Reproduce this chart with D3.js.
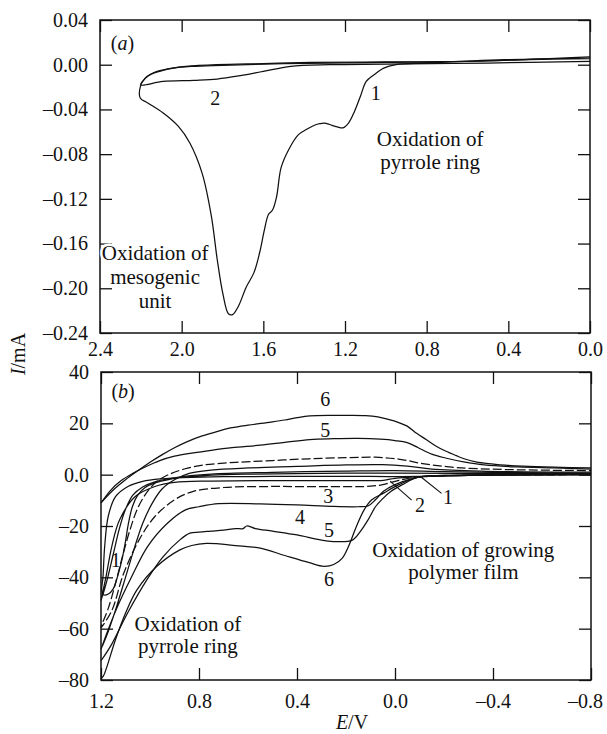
<!DOCTYPE html>
<html>
<head>
<meta charset="utf-8">
<script src="https://cdn.jsdelivr.net/npm/d3@7"></script>
<style>
  body { margin: 0; background: #fff; }
  svg text { font-family: "Liberation Serif", "Times New Roman", serif; fill: #111; }
</style>
</head>
<body>
<div id="canvas"></div>
<script>
// ---- panel (a) : potential E / V, current I / mA ----
const aXTicks = [2.4, 2.0, 1.6, 1.2, 0.8, 0.4, 0.0];
const aXLabels = ["2.4", "2.0", "1.6", "1.2", "0.8", "0.4", "0.0"];
const aYTicks = [0.04, 0.0, -0.04, -0.08, -0.12, -0.16, -0.20, -0.24];
const aYLabels = ["0.04", "0.00", "\u20130.04", "\u20130.08", "\u20130.12", "\u20130.16", "\u20130.20", "\u20130.24"];

const a1Fwd = [[0.0,0.006],[0.42,0.0045],[0.8,0.0015],[0.95,0.0],[1.01,-0.003],[1.058,-0.009],[1.096,-0.015],
  [1.124,-0.028],[1.153,-0.0416],[1.182,-0.052],[1.21,-0.0565],[1.238,-0.0556],[1.276,-0.0535],[1.3,-0.0522],
  [1.324,-0.0527],[1.34,-0.0535],[1.36,-0.055],[1.39,-0.058],[1.428,-0.0625],[1.476,-0.076],[1.513,-0.092],
  [1.535,-0.118],[1.555,-0.13],[1.575,-0.134],[1.595,-0.148],[1.618,-0.168],[1.646,-0.186],[1.684,-0.199],
  [1.722,-0.216],[1.75,-0.2235],[1.77,-0.223],[1.798,-0.205],[1.826,-0.174],[1.855,-0.135],[1.9,-0.097],
  [1.96,-0.07],[2.017,-0.055],[2.092,-0.043],[2.168,-0.034],[2.203,-0.0297]];
const a1Rev = [[2.203,-0.0297],[2.2,-0.018],[2.185,-0.0135],[2.168,-0.0104],[2.13,-0.0065],[2.09,-0.0045],
  [2.03,-0.0025],[1.98,-0.0015],[1.83,0.0],[1.6,0.001],[1.37,0.002],[1.0,0.0025],[0.61,0.003],[0.3,0.0045],[0.0,0.0055]];
const a2Fwd = [[0.0,0.003],[0.5,0.0015],[1.0,0.0005],[1.276,0.0],[1.466,-0.0015],[1.6,-0.006],[1.713,-0.0098],
  [1.826,-0.0128],[1.94,-0.014],[2.092,-0.015],[2.2,-0.018]];
const a2Rev = [[2.2,-0.018],[2.18,-0.0125],[2.15,-0.0085],[2.1,-0.0055],[2.04,-0.003],[1.95,-0.0015],
  [1.8,-0.0005],[1.5,0.001],[1.0,0.002],[0.5,0.0035],[0.0,0.007]];

// ---- panel (b) ----
const bXTicks = [1.2, 0.8, 0.4, 0.0, -0.4, -0.8];
const bXLabels = ["1.2", "0.8", "0.4", "0.0", "\u20130.4", "\u20130.8"];
const bYTicks = [40, 20, 0, -20, -40, -60, -80];
const bYLabels = ["40", "20", "0.0", "\u201320", "\u201340", "\u201360", "\u201380"];

const b1 = [[-0.8,0.2],[-0.4,0.0],[-0.1,-0.7],[0.1,-0.7],[0.4,-0.7],[0.7,-0.8],[0.87,-1.2],[0.95,-1.6],
  [1.03,-2.6],[1.09,-4.6],[1.14,-8.5],[1.17,-16],[1.185,-28],[1.192,-40],[1.197,-45],[1.19,-46.8],
  [1.17,-46.5],[1.15,-44.5],[1.135,-40.5],[1.122,-36],[1.112,-32],[1.1,-26],[1.088,-19],[1.072,-12.5],
  [1.05,-8],[1.02,-5],[0.98,-3.2],[0.92,-1.8],[0.85,-0.9],[0.75,-0.2],[0.6,0.2],[0.3,0.5],[0.0,0.6],[-0.4,0.5],[-0.8,0.4]];
const b2Fwd = [[-0.8,0.1],[-0.4,-0.1],[-0.1,-0.8],[0.0,-1.4],[0.047,-2.2],[0.2,-2.3],[0.5,-2.3],[0.75,-2.5],
  [0.9,-3.0],[0.98,-4.6],[1.06,-8.5],[1.124,-17.6],[1.156,-28],[1.18,-40],[1.2,-49]];
const b2Rev = [[1.2,-49],[1.175,-41],[1.15,-31],[1.125,-21],[1.1,-13.5],[1.07,-8],[1.03,-4.8],[0.98,-2.8],
  [0.9,-1.2],[0.75,0.2],[0.5,0.9],[0.2,1.4],[0.0,1.6],[-0.2,1.2],[-0.5,0.8],[-0.8,0.6]];
const b3Fwd = [[-0.8,0.0],[-0.4,-0.2],[-0.15,-0.6],[-0.05,-1.5],[0.0,-2.6],[0.05,-3.9],[0.1,-4.5],[0.3,-4.7],
  [0.5,-4.6],[0.7,-5.0],[0.823,-6.5],[0.9,-9.8],[0.98,-16.3],[1.045,-25.5],[1.108,-38.6],[1.156,-53],[1.2,-59.5]];
const b3Rev = [[1.2,-59.5],[1.17,-52],[1.14,-42],[1.11,-31],[1.08,-21],[1.05,-13],[1.01,-6.5],[0.97,-2.5],
  [0.92,0.2],[0.86,2.2],[0.78,3.8],[0.65,4.8],[0.5,5.5],[0.35,6.2],[0.2,6.6],[0.08,6.8],[-0.02,6.0],
  [-0.12,4.2],[-0.25,2.8],[-0.45,2.0],[-0.8,1.6]];
const b4Fwd = [[-0.8,0.0],[-0.3,-0.3],[-0.1,-0.9],[-0.064,-1.7],[0.0,-3.9],[0.047,-6.5],[0.08,-9.8],[0.11,-12.2],
  [0.15,-12.5],[0.25,-12.4],[0.4,-11.8],[0.55,-11.4],[0.72,-11.3],[0.8,-12.5],[0.855,-13.7],[0.93,-19],
  [1.01,-28],[1.076,-40],[1.14,-53],[1.2,-68]];
const b4Rev = [[1.2,-68],[1.17,-61],[1.135,-51],[1.1,-40],[1.065,-29],[1.03,-19],[0.99,-11],[0.95,-5.5],
  [0.9,-2],[0.84,0.5],[0.75,1.8],[0.6,2.6],[0.4,3.2],[0.2,3.8],[0.05,3.9],[-0.05,3.3],[-0.15,2.2],[-0.35,1.4],[-0.8,1.0]];
const b5Fwd = [[-0.8,0.0],[-0.3,-0.3],[-0.095,-1.0],[-0.03,-3.9],[0.016,-6.5],[0.055,-9.8],[0.079,-12.4],
  [0.11,-17.6],[0.142,-22.2],[0.174,-25.5],[0.237,-26.1],[0.3,-25.5],[0.4,-23.5],[0.5,-22.0],[0.57,-21.0],
  [0.605,-20.0],[0.62,-21.0],[0.65,-21.0],[0.7,-21.6],[0.75,-22.0],[0.8,-22.4],[0.837,-22.8],[0.878,-25.4],
  [0.947,-32],[1.013,-41],[1.092,-54],[1.156,-66],[1.2,-72.5]];
const b5Rev = [[1.2,-11],[1.16,-6],[1.12,-2.5],[1.07,0.5],[1.02,3],[0.96,5.5],[0.9,7.2],[0.823,8.5],[0.75,9.5],
  [0.665,10.5],[0.55,11.5],[0.45,12.6],[0.348,13.7],[0.25,14],[0.15,14.1],[0.06,13.8],[0.0,13.3],[-0.05,12.5],
  [-0.095,10.5],[-0.15,8],[-0.206,6.5],[-0.28,5],[-0.364,3.8],[-0.5,3.0],[-0.65,2.6],[-0.8,2.2]];
const b6Fwd = [[-0.8,0.2],[-0.4,0.0],[-0.2,-0.3],[-0.095,-1.0],[-0.016,-3.9],[0.047,-7.2],[0.095,-9.8],
  [0.126,-13.7],[0.158,-20.3],[0.19,-28],[0.215,-32.5],[0.25,-35],[0.29,-35.7],[0.35,-34.3],[0.45,-31.5],
  [0.55,-28.6],[0.65,-27.6],[0.77,-26.8],[0.83,-27.6],[0.878,-29.3],[0.973,-35.8],[1.054,-45],[1.1,-54],
  [1.14,-64],[1.19,-78.4],[1.2,-79.5]];
const b6Rev = [[1.2,-11],[1.15,-6],[1.1,-2],[1.05,1.5],[1.0,4.8],[0.95,7.8],[0.9,10.5],[0.85,12.8],[0.79,15],
  [0.72,17],[0.665,18.3],[0.6,19.3],[0.506,20.5],[0.45,21.3],[0.4,22.2],[0.348,22.9],[0.25,23.1],[0.19,23.1],
  [0.12,23.0],[0.07,22.5],[0.031,21.6],[-0.01,20.5],[-0.048,19],[-0.09,16],[-0.127,13.7],[-0.17,11],
  [-0.206,9.2],[-0.25,7.4],[-0.285,6.1],[-0.33,5.0],[-0.38,4.3],[-0.45,3.7],[-0.523,3.3],[-0.65,2.9],[-0.8,2.6]];

const canvas = d3.select("#canvas");
const svg = canvas.append("svg").attr("width", 607).attr("height", 734);

function panel(x, y, xTicks, xLabels, yTicks, yLabels, xPad) {
  const g = svg.append("g");
  const x0 = x.range()[0], x1 = x.range()[1], y0 = y.range()[1], y1 = y.range()[0];
  g.append("g").attr("class", "xaxis").attr("transform", `translate(0,${y1})`)
    .call(d3.axisBottom(x).tickValues(xTicks).tickSize(-12).tickPadding(xPad).tickFormat((d, i) => xLabels[i]));
  g.append("g").attr("transform", `translate(0,${y0})`)
    .call(d3.axisTop(x).tickValues(xTicks).tickSize(-12).tickFormat(""));
  g.append("g").attr("transform", `translate(${x0},0)`)
    .call(d3.axisLeft(y).tickValues(yTicks).tickSize(-12).tickPadding(12).tickFormat((d, i) => yLabels[i]));
  g.append("g").attr("transform", `translate(${x1},0)`)
    .call(d3.axisRight(y).tickValues(yTicks).tickSize(-12).tickFormat(""));
  g.selectAll(".domain").remove();
  g.selectAll(".tick line").attr("stroke", "#111").attr("stroke-width", 1.3);
  g.selectAll(".tick text").attr("font-size", 20).attr("fill", "#111");
  g.append("rect").attr("x", x0).attr("y", y0).attr("width", x1 - x0).attr("height", y1 - y0)
    .attr("fill", "none").attr("stroke", "#111").attr("stroke-width", 1.5);
  return g;
}

function curve(g, x, y, data, dashed) {
  const line = d3.line().x(d => x(d[0])).y(d => y(d[1])).curve(d3.curveCatmullRom.alpha(0.5));
  g.append("path").datum(data).attr("d", line)
    .attr("fill", "none").attr("stroke", "#111").attr("stroke-width", 1.25)
    .attr("stroke-dasharray", dashed ? "9,3" : null);
}

function label(g, x, y, e, i, txt) {
  return g.append("text").attr("x", x(e)).attr("y", y(i)).attr("text-anchor", "middle")
    .attr("dominant-baseline", "central").attr("font-size", 20).text(txt);
}

// several lines in one text element
function note(g, x, y, e, i, lines, step, halo) {
  const t = g.append("text").attr("x", x(e)).attr("y", y(i)).attr("text-anchor", "middle")
    .attr("font-size", 21).attr("dominant-baseline", "central");
  lines.forEach((s, k) => {
    t.append("tspan").attr("x", x(e)).attr("dy", k === 0 ? 0 : step).text(s);
  });
  if (halo) t.attr("stroke", "#fff").attr("stroke-width", 5).attr("paint-order", "stroke");
  return t;
}

function paren(g, x, y, e, i, letter) {
  const t = g.append("text").attr("x", x(e)).attr("y", y(i)).attr("text-anchor", "middle")
    .attr("dominant-baseline", "central").attr("font-size", 20);
  t.append("tspan").text("(");
  t.append("tspan").attr("font-style", "italic").text(letter);
  t.append("tspan").text(")");
}

// panel (a)
const xa = d3.scaleLinear().domain([2.4, 0]).range([100, 590]);
const ya = d3.scaleLinear().domain([-0.24, 0.04]).range([333, 20]);
const ga = panel(xa, ya, aXTicks, aXLabels, aYTicks, aYLabels, 9);
curve(ga, xa, ya, a1Fwd.concat(a1Rev.slice(1)), false);
curve(ga, xa, ya, a2Fwd.concat(a2Rev.slice(1)), false);
label(ga, xa, ya, 1.05, -0.025, "1");
label(ga, xa, ya, 1.836, -0.0297, "2");
paren(ga, xa, ya, 2.29, 0.0198, "a");
note(ga, xa, ya, 0.783, -0.0669, ["Oxidation of", "pyrrole ring"], 23);
note(ga, xa, ya, 2.13, -0.1684, ["Oxidation of", "mesogenic", "unit"], 24, true);

// panel (b)
const xb = d3.scaleLinear().domain([1.2, -0.8]).range([101, 591]);
const yb = d3.scaleLinear().domain([-80, 40]).range([680, 372]);
const gb = panel(xb, yb, bXTicks, bXLabels, bYTicks, bYLabels, 14);
gb.selectAll(".xaxis .tick:last-of-type text").attr("dx", -6);
curve(gb, xb, yb, b1, false);
curve(gb, xb, yb, b2Fwd.concat(b2Rev.slice(1)), false);
curve(gb, xb, yb, b3Fwd.concat(b3Rev.slice(1)), true);
curve(gb, xb, yb, b4Fwd.concat(b4Rev.slice(1)), false);
curve(gb, xb, yb, b5Fwd, false);
curve(gb, xb, yb, b5Rev, false);
curve(gb, xb, yb, b6Fwd, false);
curve(gb, xb, yb, b6Rev, false);

const leaders = [[[-0.105, -0.8], [-0.19, -7.3]], [[0.02, -2.5], [-0.068, -9.9]]];
leaders.forEach(l => {
  gb.append("line").attr("x1", xb(l[0][0])).attr("y1", yb(l[0][1]))
    .attr("x2", xb(l[1][0])).attr("y2", yb(l[1][1])).attr("stroke", "#111").attr("stroke-width", 1.1);
});
label(gb, xb, yb, -0.216, -8.6, "1");
label(gb, xb, yb, -0.102, -11.8, "2");
label(gb, xb, yb, 0.285, 29.4, "6");
label(gb, xb, yb, 0.285, 17.3, "5");
label(gb, xb, yb, 0.272, -8.5, "3");
label(gb, xb, yb, 0.388, -16.3, "4");
label(gb, xb, yb, 0.269, -21.6, "5");
label(gb, xb, yb, 0.269, -40.5, "6");
label(gb, xb, yb, 1.14, -33.2, "1");
paren(gb, xb, yb, 1.11, 32.7, "b");
note(gb, xb, yb, -0.279, -29.3, ["Oxidation of growing", "polymer film"], 22);
note(gb, xb, yb, 0.845, -58.2, ["Oxidation of", "pyrrole ring"], 22);

// axis titles
const yt = svg.append("text").attr("transform", "translate(18,354) rotate(-90)")
  .attr("text-anchor", "middle").attr("dominant-baseline", "central").attr("font-size", 20);
yt.append("tspan").attr("font-style", "italic").text("I");
yt.append("tspan").text("/mA");
const xt = svg.append("text").attr("x", 352).attr("y", 722)
  .attr("text-anchor", "middle").attr("dominant-baseline", "central").attr("font-size", 20);
xt.append("tspan").attr("font-style", "italic").text("E");
xt.append("tspan").text("/V");
</script>
</body>
</html>
